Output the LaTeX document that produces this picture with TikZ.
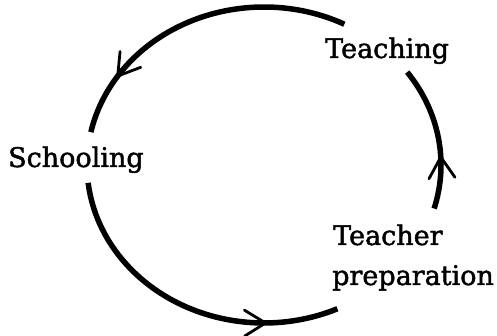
\documentclass[tikz,border=0pt]{standalone}
\usepackage{fontspec}
\setmainfont[FakeBold=1.6]{DejaVu Serif}
\usetikzlibrary{decorations.markings}
\tikzset{
  cyclearc/.style={line width=5.5pt, line cap=butt},
  vhead/.style={line width=2.8pt, line cap=round, line join=miter},
  lbl/.style={anchor=base west, inner sep=0pt, font=\fontsize{27}{30}\selectfont},
  arrowat/.style={postaction={decorate, decoration={markings,
      mark=at position #1 with {\draw[vhead] (-21,13) -- (0,0) -- (-21,-13);}}}}
}
\begin{document}
\begin{tikzpicture}[x=1pt,y=1pt]
  \useasboundingbox (0,0) rectangle (497,336);
  \def\cx{264}\def\cy{171}\def\rx{177}\def\ry{158}
  % labels
  \node[lbl] (teach) at (325,278) {Teaching};
  \node[lbl] (school) at (8,169) {Schooling};
  \node[lbl] (prep1) at (333,91) {Teacher};
  \node[lbl] (prep2) at (332,51) {preparation};
  % arc end points
  \coordinate (a1) at ({\cx+\rx*cos(63)},{\cy+\ry*sin(63)});
  \coordinate (b1) at ({\cx+\rx*cos(186.5)},{\cy+\ry*sin(186.5)});
  \coordinate (c1) at ({\cx+\rx*cos(-16)},{\cy+\ry*sin(-16)});
  % Teaching -> Schooling
  \draw[cyclearc, arrowat=0.8] (a1) arc[start angle=63, end angle=168, x radius=\rx, y radius=\ry];
  % Schooling -> Teacher preparation
  \draw[cyclearc, arrowat=0.77] (b1) arc[start angle=186.5, end angle=294.5, x radius=\rx, y radius=\ry];
  % Teacher preparation -> Teaching
  \draw[cyclearc, arrowat=0.36] (c1) arc[start angle=-16, end angle=36, x radius=\rx, y radius=\ry];
\end{tikzpicture}
\end{document}
